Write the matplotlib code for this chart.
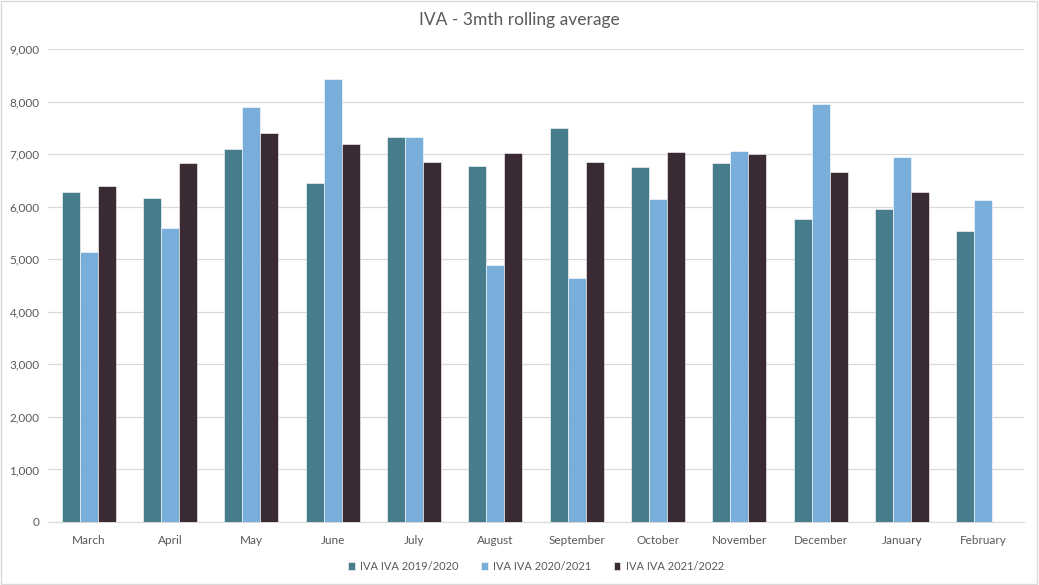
import matplotlib
matplotlib.use('Agg')
import matplotlib.pyplot as plt
import numpy as np

# values
months = ['March', 'April', 'May', 'June', 'July', 'August', 'September',
          'October', 'November', 'December', 'January', 'February']
iva_1920 = [6285, 6170, 7095, 6450, 7325, 6775, 7500, 6755, 6830, 5765, 5955, 5535]
iva_2021 = [5145, 5590, 7890, 8425, 7325, 4890, 4645, 6145, 7060, 7955, 6945, 6125]
iva_2122 = [6390, 6830, 7410, 7195, 6850, 7020, 6850, 7040, 7005, 6660, 6285, np.nan]
series_names = ['IVA IVA 2019/2020', 'IVA IVA 2020/2021', 'IVA IVA 2021/2022']
colors = ['#467C8C', '#7AAEDA', '#3A2A33']

plt.rcParams['font.family'] = ['Lato', 'DejaVu Sans']
txt = '#595959'

fig = plt.figure(figsize=(10.39, 5.85), dpi=100)
ax = fig.add_axes([48/1039, 63/585, 976/1039, 473/585])

x = np.arange(len(months))
w = 0.222
for i, (vals, name, c) in enumerate(zip([iva_1920, iva_2021, iva_2122], series_names, colors)):
    ax.bar(x + (i - 1) * w, vals, width=w, color=c, label=name,
           edgecolor='white', linewidth=0.4, zorder=3)

ax.set_xlim(-0.5, len(months) - 0.5)
ax.set_ylim(0, 9000)
ax.set_yticks(np.arange(0, 9001, 1000))
ax.set_yticklabels(['{:,}'.format(v) for v in range(0, 9001, 1000)], fontsize=8.5, color=txt)
ax.set_xticks(x)
ax.set_xticklabels(months, fontsize=8.5, color=txt)
ax.tick_params(axis='y', length=0, pad=6)
ax.tick_params(axis='x', length=0, pad=9)
ax.yaxis.grid(True, color='#D9D9D9', linewidth=0.9, zorder=0)
for s in ['top', 'right', 'left']:
    ax.spines[s].set_visible(False)
ax.spines['bottom'].set_color('#D9D9D9')

fig.text(0.5, 1 - 20/585, 'IVA - 3mth rolling average', ha='center', va='center',
         fontsize=12.5, color=txt)

leg = ax.legend(loc='center', bbox_to_anchor=(0.5, (565 - 522) / -473 - 0.003), ncol=3,
                frameon=False, fontsize=8, handlelength=0.6, handleheight=0.6,
                columnspacing=2.0, handletextpad=0.5)
for t in leg.get_texts():
    t.set_color(txt)

# chart border
fig.patches.append(plt.Rectangle((0.001, 0.002), 0.997, 0.996, transform=fig.transFigure,
                                 fill=False, edgecolor='#D9D9D9', linewidth=1))

fig.savefig('out.png', dpi=100)
